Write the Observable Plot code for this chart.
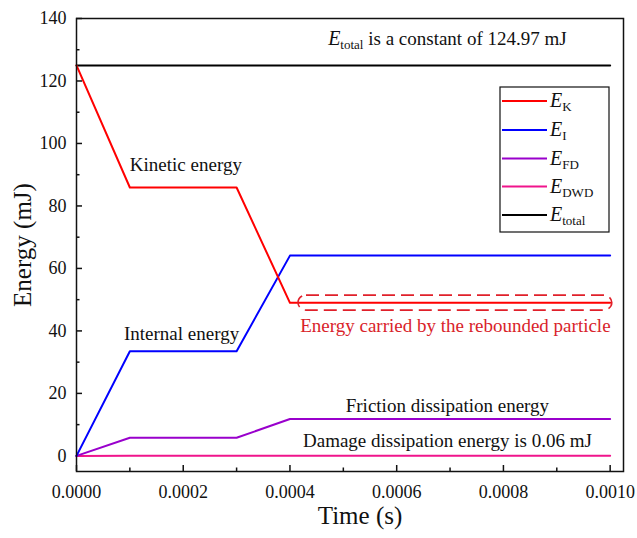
<!DOCTYPE html>
<html>
<head>
<meta charset="utf-8">
<script src="https://cdn.jsdelivr.net/npm/d3@7"></script>
<script src="https://cdn.jsdelivr.net/npm/@observablehq/plot@0.6"></script>
<style>
  body { margin: 0; background: white; }
  #chart { position: relative; width: 637px; height: 538px; }
  #chart svg text { font-family: "Liberation Serif", "Times New Roman", serif; }
</style>
</head>
<body>
<div id="chart"></div>
<script>
// ---- data ----
const time   = [0, 0.0001, 0.0003, 0.0004, 0.001];
const E_K     = [124.97, 85.9, 85.9, 49.0, 49.0];
const E_I     = [0, 33.5, 33.5, 64.1, 64.1];
const E_FD    = [0, 5.8, 5.8, 11.8, 11.8];
const E_DWD   = [0, 0.02, 0.02, 0.06, 0.06];
const E_total = [124.97, 124.97, 124.97, 124.97, 124.97];

const seriesNames = ["K", "I", "FD", "DWD", "total"];
const seriesColors = ["#ff0000", "#0000ff", "#9900cc", "#f0148c", "#000000"];
const seriesValues = [E_K, E_I, E_FD, E_DWD, E_total];

const xMajorTicks = [0, 0.0002, 0.0004, 0.0006, 0.0008, 0.0010];
const xMinorTicks = [0.0001, 0.0003, 0.0005, 0.0007, 0.0009];
const yMajorTicks = [0, 20, 40, 60, 80, 100, 120, 140];
const yMinorTicks = [10, 30, 50, 70, 90, 110, 130];

const annotations = [
  {text: "Kinetic energy", x: 0.0001, y: 93, anchor: "start", color: "#111"},
  {text: "Internal energy", x: 0.000089, y: 39, anchor: "start", color: "#111"},
  {text: "Energy carried by the rebounded particle", x: 0.00071, y: 41.6, anchor: "middle", color: "#d9232a"},
  {text: "Friction dissipation energy", x: 0.000695, y: 16.1, anchor: "middle", color: "#111"},
  {text: "Damage dissipation energy is 0.06 mJ", x: 0.000695, y: 4.8, anchor: "middle", color: "#111"},
  {text: "TOTALNOTE", x: 0.000695, y: 133.6, anchor: "middle", color: "#111"}
];
const reboundBox = [{x1: 0.000416, x2: 0.001004, y1: 46.5, y2: 51.3}];

// ---- build rows ----
const rows = [];
seriesNames.forEach((s, i) => time.forEach((t, j) => rows.push({time: t, energy: seriesValues[i][j], series: s})));

const drawOrder = ["total", "DWD", "FD", "I", "K"];

const plot = Plot.plot({
  width: 637,
  height: 538,
  marginLeft: 76,
  marginRight: 14,
  marginTop: 18,
  marginBottom: 67,
  style: {fontFamily: "Liberation Serif", fontSize: "18px", background: "white", color: "#111"},
  x: {domain: [0, 0.001025]},
  y: {domain: [-5, 140]},
  marks: [
    Plot.axisX(xMajorTicks, {tickSize: -6, tickPadding: 20, tickFormat: d3.format(".4f"), label: null, strokeWidth: 1.5}),
    Plot.axisX(xMinorTicks, {tickSize: -3.5, tickFormat: () => "", label: null, strokeWidth: 1.5}),
    Plot.axisY(yMajorTicks, {tickSize: -6, tickPadding: 16, label: null, strokeWidth: 1.5}),
    Plot.axisY(yMinorTicks, {tickSize: -3.5, tickFormat: () => "", label: null, strokeWidth: 1.5}),
    ...drawOrder.map(s => Plot.line(rows.filter(r => r.series === s), {
      x: "time", y: "energy",
      stroke: seriesColors[seriesNames.indexOf(s)], strokeWidth: 2
    })),
    Plot.rect(reboundBox, {x1: "x1", x2: "x2", y1: "y1", y2: "y2", fill: "none", stroke: "#e0202a",
      strokeWidth: 1.6, strokeDasharray: "13,6", rx: 8}),
    ...annotations.map(a => Plot.text([a], {x: "x", y: "y", text: "text", textAnchor: a.anchor,
      fill: a.color, fontSize: 19})),
    Plot.text([{x: 0, y: 67.5, t: "Energy (mJ)"}], {x: "x", y: "y", text: "t", dx: -54, rotate: -90, fontSize: 25, fill: "#111"}),
    Plot.text(["Time (s)"], {frameAnchor: "bottom", dx: 10, dy: 52, fontSize: 25, fill: "#111"}),
    Plot.frame({stroke: "#111", strokeWidth: 1.5})
  ]
});

document.getElementById("chart").appendChild(plot);

// subscripted annotation for E_total
const svg = d3.select(plot);
svg.selectAll("text").filter(function() { return this.textContent === "TOTALNOTE"; }).each(function() {
  const t = d3.select(this);
  const tgt = t.select("tspan").empty() ? t : t.select("tspan");
  tgt.text(null);
  tgt.append("tspan").attr("font-style", "italic").attr("font-size", 20).text("E");
  tgt.append("tspan").attr("font-size", 13).attr("dy", 4).text("total");
  tgt.append("tspan").attr("dy", -4).text(" is a constant of 124.97 mJ");
});

// legend
const legend = svg.append("g").attr("text-anchor", "start");
legend.append("rect").attr("x", 500).attr("y", 87).attr("width", 109).attr("height", 145)
  .attr("fill", "white").attr("stroke", "#111").attr("stroke-width", 1.2);
const legY = [101, 130, 158.5, 186.5, 215];
seriesNames.forEach((s, i) => {
  const g = legend.append("g");
  g.append("line").attr("x1", 502).attr("x2", 547).attr("y1", legY[i]).attr("y2", legY[i])
    .attr("stroke", seriesColors[i]).attr("stroke-width", 2);
  const tx = g.append("text").attr("x", 550).attr("y", legY[i] + 6).attr("fill", "#111").attr("text-anchor", "start");
  tx.append("tspan").attr("font-style", "italic").attr("font-size", 20).text("E");
  tx.append("tspan").attr("font-size", 13).attr("dy", 4).text(s);
});
</script>
</body>
</html>
